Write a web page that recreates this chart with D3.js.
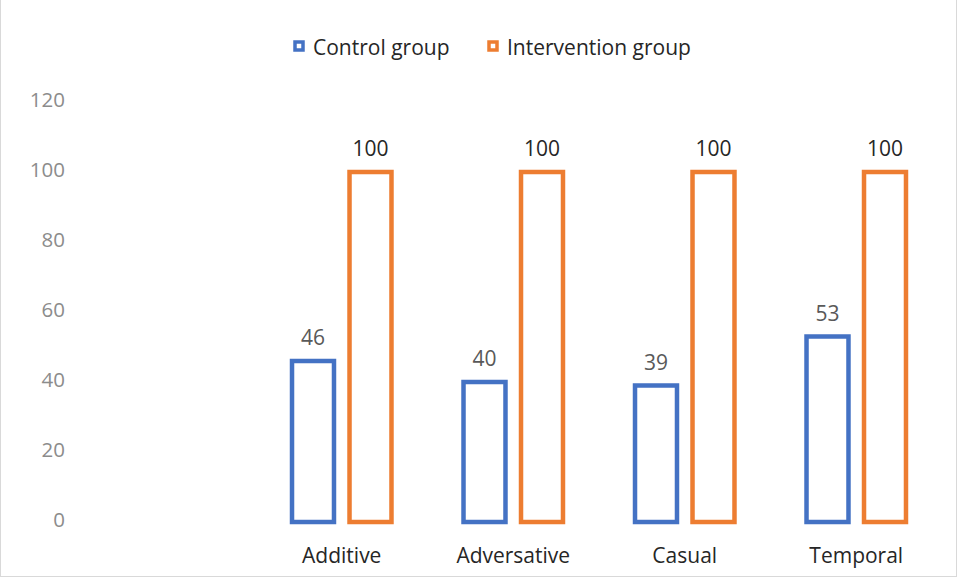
<!DOCTYPE html>
<html>
<head>
<meta charset="utf-8">
<script src="https://cdn.jsdelivr.net/npm/d3@7"></script>
<style>
  body { margin: 0; background: #fff; }
  svg { font-family: "Open Sans", "Liberation Sans", Arial, sans-serif; }
</style>
</head>
<body>
<div id="chart"></div>
<script>
// Chart data
const categories = ["Additive", "Adversative", "Casual", "Temporal"];
const seriesNames = ["Control group", "Intervention group"];
const controlValues = [46, 40, 39, 53];
const interventionValues = [100, 100, 100, 100];
const yTicks = [0, 20, 40, 60, 80, 100, 120];

const colors = ["#4472c4", "#ed7d31"];
const labelColors = ["#595959", "#262626"];
const fontFamily = "Open Sans, Liberation Sans, Arial, sans-serif";

const W = 958, H = 579;

const svg = d3.select("#chart")
    .append("svg")
    .attr("width", W)
    .attr("height", H);

// Light border round the chart area
svg.append("rect")
    .attr("x", 0.5).attr("y", -1)
    .attr("width", W - 2).attr("height", H - 1.5)
    .attr("fill", "#fff")
    .attr("stroke", "#d9d9d9");

// Scales
const y = d3.scaleLinear().domain([0, 120]).range([522, 102]);

const x0 = d3.scaleBand()
    .domain(categories)
    .range([256, 942])
    .padding(0);

const x1 = d3.scaleBand()
    .domain(seriesNames)
    .range([-57.5, 57.5])
    .paddingInner(0.27)
    .paddingOuter(0.135);

// Y axis labels (no line, no gridlines)
const yAxis = svg.append("g")
    .attr("transform", "translate(65,0)")
    .call(d3.axisLeft(y).tickValues(yTicks).tickSize(0).tickPadding(0));
yAxis.select(".domain").remove();
yAxis.selectAll("text")
    .attr("font-family", fontFamily)
    .attr("dy", "0.22em")
    .style("font-size", "20.5px")
    .attr("fill", "#8c8c8c");

// Category labels
svg.append("g")
    .selectAll("text")
    .data(categories)
    .enter()
    .append("text")
    .attr("x", d => x0(d) + x0.bandwidth() / 2)
    .attr("y", 563)
    .attr("text-anchor", "middle")
    .style("font-size", "21px")
    .attr("fill", "#262626")
    .text(d => d);

// Build grouped data
const groups = categories.map((c, i) => ({
    category: c,
    values: [
        { name: seriesNames[0], value: controlValues[i], s: 0 },
        { name: seriesNames[1], value: interventionValues[i], s: 1 }
    ]
}));

const g = svg.selectAll(".group")
    .data(groups)
    .enter()
    .append("g")
    .attr("class", "group")
    .attr("transform", d => `translate(${x0(d.category) + x0.bandwidth() / 2},0)`);

// Outlined bars
g.selectAll("rect")
    .data(d => d.values)
    .enter()
    .append("rect")
    .attr("x", d => x1(d.name))
    .attr("y", d => y(d.value))
    .attr("width", x1.bandwidth())
    .attr("height", d => y(0) - y(d.value))
    .attr("fill", "#fff")
    .attr("stroke", d => colors[d.s])
    .attr("stroke-width", 4.5);

// Value labels
g.selectAll(".val")
    .data(d => d.values)
    .enter()
    .append("text")
    .attr("class", "val")
    .attr("x", d => x1(d.name) + x1.bandwidth() / 2)
    .attr("y", d => y(d.value) - 16)
    .attr("text-anchor", "middle")
    .style("font-size", "21px")
    .attr("fill", d => labelColors[d.s])
    .text(d => d.value);

// Legend
const legendX = [293, 487];
const legend = svg.selectAll(".legend")
    .data(seriesNames)
    .enter()
    .append("g")
    .attr("class", "legend")
    .attr("transform", (d, i) => `translate(${legendX[i]},40)`);

legend.append("rect")
    .attr("x", 2).attr("y", 2)
    .attr("width", 8).attr("height", 8)
    .attr("fill", "#fff")
    .attr("stroke", (d, i) => colors[i])
    .attr("stroke-width", 3.5);

legend.append("text")
    .attr("x", 20)
    .attr("y", 14.5)
    .style("font-size", "21px")
    .attr("fill", "#262626")
    .text(d => d);
</script>
</body>
</html>
